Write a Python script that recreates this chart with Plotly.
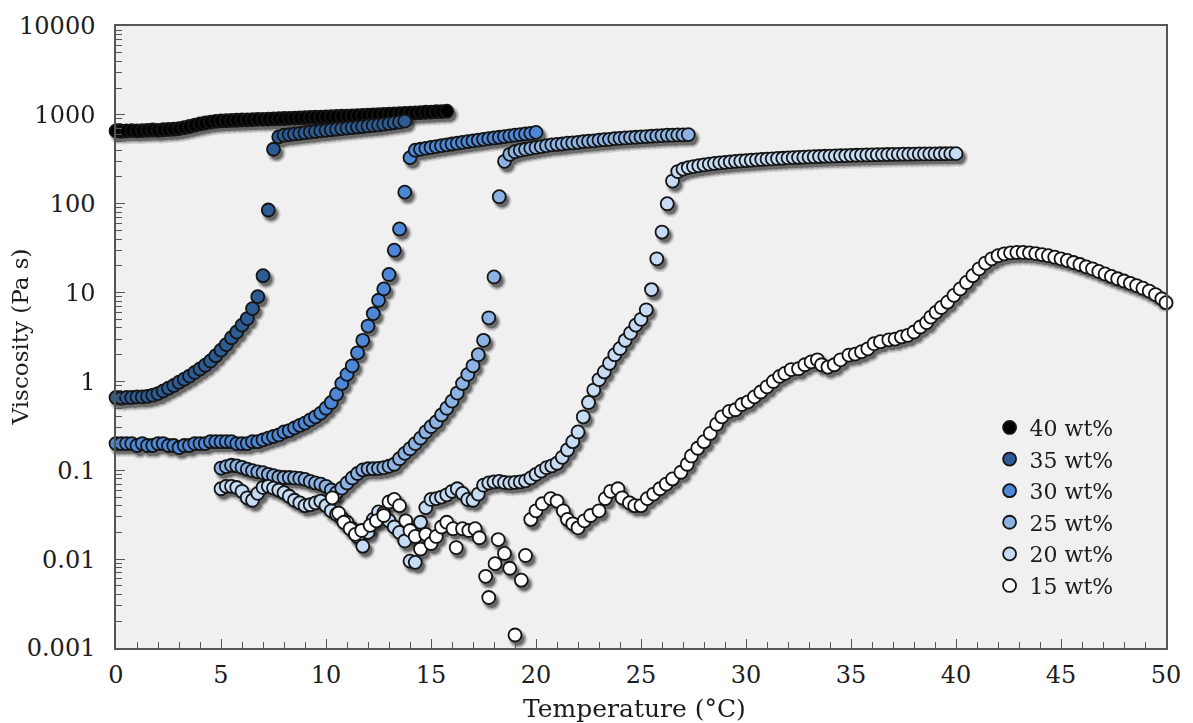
import plotly.graph_objects as go

# Temperature ramps sampled every 0.25 °C (start temperature per sample)
T_STEP = 0.25
T_START_40 = 0.0
T_START_35 = 0.0
T_START_30 = 0.0
T_START_25 = 5.0
T_START_20 = 5.0

# Viscosity (Pa s) for each concentration
visc_40 = [660, 655, 660, 665, 660, 665, 670, 675, 670, 680,
           685, 690, 700, 720, 740, 765, 790, 810, 830, 845,
           855, 860, 865, 870, 875, 880, 885, 890, 890, 895,
           900, 905, 910, 915, 920, 925, 930, 935, 940, 945,
           950, 955, 960, 965, 970, 975, 980, 985, 990, 1000,
           1005, 1010, 1020, 1025, 1030, 1040, 1045, 1050, 1060, 1070,
           1075, 1085, 1090, 1100]

visc_35 = [0.66, 0.65, 0.66, 0.66, 0.67, 0.67, 0.68, 0.70, 0.73, 0.78,
           0.84, 0.90, 0.98, 1.06, 1.15, 1.26, 1.38, 1.52, 1.70, 1.95,
           2.25, 2.6, 3.1, 3.6, 4.3, 5.1, 6.6, 9.0, 15.5, 85,
           410, 565, 590, 600, 610, 620, 630, 640, 650, 660,
           670, 680, 690, 700, 710, 720, 730, 740, 750, 760,
           770, 785, 800, 815, 830, 850]

visc_30 = [0.20, 0.20, 0.20, 0.20, 0.19, 0.20, 0.19, 0.19, 0.20, 0.20,
           0.19, 0.19, 0.18, 0.19, 0.19, 0.20, 0.20, 0.20, 0.21, 0.21,
           0.21, 0.21, 0.21, 0.20, 0.20, 0.20, 0.21, 0.21, 0.22, 0.23,
           0.24, 0.25, 0.27, 0.28, 0.30, 0.32, 0.34, 0.37, 0.40, 0.44,
           0.50, 0.58, 0.72, 0.95, 1.2, 1.5, 2.1, 2.9, 4.2, 5.8,
           8.2, 11, 16, 30, 52, 135, 330, 400, 410, 420,
           430, 440, 450, 460, 470, 480, 490, 500, 510, 520,
           530, 540, 550, 560, 570, 580, 590, 600, 610, 620,
           635]

visc_25 = [0.106, 0.110, 0.114, 0.112, 0.108, 0.103, 0.099, 0.096, 0.094, 0.090,
           0.087, 0.084, 0.083, 0.083, 0.082, 0.081, 0.079, 0.075, 0.072, 0.070,
           0.066, 0.060, 0.056, 0.063, 0.072, 0.082, 0.092, 0.101, 0.104, 0.104,
           0.105, 0.107, 0.111, 0.117, 0.135, 0.155, 0.175, 0.20, 0.23, 0.27,
           0.31, 0.35, 0.42, 0.50, 0.60, 0.74, 0.95, 1.2, 1.5, 2.0,
           2.9, 5.2, 15, 120, 300, 360, 385, 400, 410, 420,
           430, 440, 450, 460, 465, 470, 480, 485, 490, 500,
           505, 510, 520, 525, 530, 540, 545, 550, 555, 560,
           565, 570, 575, 580, 585, 590, 590, 595, 595, 600]

visc_20 = [0.062, 0.066, 0.066, 0.064, 0.058, 0.049, 0.046, 0.055, 0.064, 0.066,
           0.063, 0.060, 0.056, 0.051, 0.046, 0.043, 0.040, 0.041, 0.043, 0.045,
           0.040, 0.035, 0.032, 0.029, 0.026, 0.022, 0.018, 0.014, 0.020, 0.028,
           0.034, 0.033, 0.027, 0.023, 0.020, 0.016, 0.0095, 0.0092, 0.026, 0.038,
           0.047, 0.048, 0.050, 0.053, 0.058, 0.062, 0.055, 0.047, 0.046, 0.054,
           0.068, 0.072, 0.074, 0.075, 0.073, 0.072, 0.073, 0.074, 0.076, 0.082,
           0.090, 0.098, 0.107, 0.112, 0.12, 0.14, 0.17, 0.21, 0.27, 0.40,
           0.58, 0.80, 1.05, 1.28, 1.6, 2.0, 2.35, 2.9, 3.5, 4.3,
           5.0, 6.4, 10.8, 24, 48, 100, 180, 230, 245, 255,
           262, 268, 274, 279, 284, 288, 292, 296, 300, 303,
           306, 309, 312, 315, 318, 320, 323, 325, 328, 330,
           332, 334, 336, 338, 340, 342, 344, 345, 347, 348,
           350, 351, 353, 354, 355, 356, 357, 358, 359, 360,
           361, 361, 362, 363, 363, 364, 364, 365, 365, 366, 366]

# 15 wt% was logged at irregular temperatures, so both columns are listed
temp_15 = [10.3, 10.6, 10.85, 11.15, 11.4, 11.7, 12.1, 12.4, 12.75, 13.0,
           13.25, 13.5, 13.8, 14.0, 14.25, 14.5, 14.75, 15.0, 15.25, 15.5,
           15.75, 16.05, 16.2, 16.5, 16.8, 17.1, 17.3, 17.6, 17.75, 18.05,
           18.2, 18.5, 18.75, 19.0, 19.3, 19.5, 19.75, 20.0, 20.3, 20.7,
           21.0, 21.3, 21.5, 21.75, 22.0, 22.3, 22.6, 23.0, 23.3, 23.55,
           23.9, 24.1, 24.45, 24.7, 25.0, 25.3, 25.6, 25.9, 26.2, 26.5,
           26.9, 27.2, 27.4, 27.7, 28.0, 28.3, 28.6, 28.85, 29.2, 29.5,
           29.8, 30.1, 30.4, 30.7, 31.0, 31.3, 31.6, 31.85, 32.15, 32.5,
           32.8, 33.1, 33.4, 33.6, 33.9, 34.2, 34.5, 34.9, 35.2, 35.5,
           35.8, 36.1, 36.4, 36.8, 37.1, 37.4, 37.7, 38.0, 38.3, 38.6,
           38.8, 39.05, 39.3, 39.6, 39.9, 40.2, 40.5, 40.8, 41.1, 41.4,
           41.7, 42.0, 42.3, 42.6, 42.9, 43.2, 43.5, 43.8, 44.1, 44.4,
           44.7, 45.0, 45.3, 45.6, 45.9, 46.2, 46.5, 46.8, 47.1, 47.4,
           47.7, 48.0, 48.3, 48.6, 48.9, 49.2, 49.5, 49.8, 50.0]

visc_15 = [0.049, 0.033, 0.026, 0.022, 0.019, 0.021, 0.024, 0.027, 0.031, 0.044,
           0.047, 0.040, 0.027, 0.021, 0.018, 0.013, 0.019, 0.015, 0.018, 0.023,
           0.026, 0.022, 0.0135, 0.022, 0.021, 0.022, 0.0174, 0.0064, 0.0037, 0.0089,
           0.0166, 0.0116, 0.0079, 0.0014, 0.0058, 0.011, 0.028, 0.035, 0.042, 0.048,
           0.045, 0.035, 0.028, 0.025, 0.0225, 0.027, 0.031, 0.035, 0.048, 0.058,
           0.062, 0.049, 0.043, 0.040, 0.040, 0.048, 0.054, 0.062, 0.070, 0.080,
           0.095, 0.117, 0.145, 0.177, 0.21, 0.26, 0.33, 0.40, 0.46, 0.48,
           0.55, 0.59, 0.67, 0.76, 0.87, 1.0, 1.14, 1.23, 1.36, 1.39,
           1.54, 1.66, 1.75, 1.54, 1.45, 1.54, 1.75, 1.98, 2.03, 2.16,
           2.33, 2.66, 2.8, 2.94, 3.0, 3.17, 3.3, 3.6, 4.1, 4.6,
           5.3, 6.0, 6.8, 7.8, 9.3, 11.0, 13.0, 15.5, 18.5, 21.5,
           24, 26, 27.3, 28, 28.3, 28.3, 28, 27.5, 26.8, 26,
           25, 24, 23, 21.8, 20.7, 19.5, 18.5, 17.3, 16.2, 15.2,
           14.3, 13.5, 12.7, 12.0, 11.2, 10.4, 9.5, 8.5, 7.7]

x_ticks = [0, 5, 10, 15, 20, 25, 30, 35, 40, 45, 50]
y_ticks = [0.001, 0.01, 0.1, 1, 10, 100, 1000, 10000]
y_tick_text = ["0.001", "0.01", "0.1", "1", "10", "100", "1000", "10000"]

X_RANGE = [0, 50]
Y_RANGE_LOG = [-3, 4]


def ramp(start, values):
    return [round(start + T_STEP * i, 2) for i in range(len(values))]


series = [
    ("40 wt%", ramp(T_START_40, visc_40), visc_40, "#000000"),
    ("35 wt%", ramp(T_START_35, visc_35), visc_35, "#2d5c95"),
    ("30 wt%", ramp(T_START_30, visc_30), visc_30, "#4d87d6"),
    ("25 wt%", ramp(T_START_25, visc_25), visc_25, "#8db3e4"),
    ("20 wt%", ramp(T_START_20, visc_20), visc_20, "#c6dbf4"),
    ("15 wt%", temp_15, visc_15, "#ffffff"),
]

FONT = "DejaVu Serif, serif"
INK = "#1c1c1c"
AXIS_GREY = "#555555"

W, H = 1193, 723
M_L, M_R, M_T, M_B = 116, 21, 22, 75

# Drop shadow: the shadow layer sits on hidden axes whose ranges are nudged
# by a few pixels, so the same points land slightly down and to the right.
SHADOW_DX_PX, SHADOW_DY_PX = 3, 4
px_per_x = (W - M_L - M_R) / (X_RANGE[1] - X_RANGE[0])
px_per_decade = (H - M_T - M_B) / (Y_RANGE_LOG[1] - Y_RANGE_LOG[0])
dx = SHADOW_DX_PX / px_per_x
dy = SHADOW_DY_PX / px_per_decade

fig = go.Figure()

# shadow layer (bottom subplot): stacked soft discs fake a blurred edge
for name, temps, visc, color in series:
    for size, alpha in ((19, 0.12), (16, 0.22), (13, 0.36)):
        fig.add_trace(go.Scatter(
            x=temps, y=visc, mode="markers", showlegend=False, hoverinfo="skip",
            cliponaxis=False, opacity=alpha, xaxis="x", yaxis="y",
            marker=dict(size=size, color="#000000", line=dict(width=0)),
        ))

# data markers (overlay subplot carrying the visible axes)
for name, temps, visc, color in series:
    fig.add_trace(go.Scatter(
        x=temps, y=visc, name=name, mode="markers", cliponaxis=False,
        xaxis="x2", yaxis="y2",
        marker=dict(size=13, color=color, line=dict(color="#141414", width=1.8)),
    ))

tick_font = dict(family=FONT, size=24, color=INK)

fig.update_layout(
    width=W, height=H,
    margin=dict(l=M_L, r=M_R, t=M_T, b=M_B),
    paper_bgcolor="#ffffff", plot_bgcolor="#f0f0f0",
    font=dict(family=FONT, color=INK),
    xaxis=dict(range=[X_RANGE[0] - dx, X_RANGE[1] - dx], visible=False, fixedrange=True),
    yaxis=dict(type="log", range=[Y_RANGE_LOG[0] + dy, Y_RANGE_LOG[1] + dy],
               visible=False, fixedrange=True),
    xaxis2=dict(overlaying="x", anchor="y2", side="bottom", range=X_RANGE,
                tickvals=x_ticks, ticks="inside", ticklen=9, tickwidth=1.2,
                ticklabelstandoff=4, tickfont=tick_font,
                showline=True, linecolor=AXIS_GREY, linewidth=1.5, mirror=True,
                showgrid=False, zeroline=False, tickcolor=AXIS_GREY,
                minor=dict(dtick=1, tick0=0, ticks="inside", ticklen=6, tickwidth=1,
                           tickcolor=AXIS_GREY, showgrid=False)),
    yaxis2=dict(overlaying="y", anchor="x2", side="left", type="log", range=Y_RANGE_LOG,
                tickvals=y_ticks, ticktext=y_tick_text, ticks="inside", ticklen=9,
                tickwidth=1.2, ticklabelstandoff=14, tickfont=tick_font,
                showline=True, linecolor=AXIS_GREY, linewidth=1.5, mirror=True,
                showgrid=False, zeroline=False, tickcolor=AXIS_GREY,
                minor=dict(dtick="D1", ticks="inside", ticklen=6, tickwidth=1,
                           tickcolor=AXIS_GREY, showgrid=False)),
    showlegend=True,
    legend=dict(x=0.832, y=0.388, xanchor="left", yanchor="top",
                bgcolor="rgba(0,0,0,0)", font=dict(family=FONT, size=22, color=INK),
                itemclick=False, itemdoubleclick=False),
    annotations=[
        dict(text="Viscosity (Pa s)", xref="paper", yref="paper", x=-0.091, y=0.5,
             xanchor="center", yanchor="middle",
             textangle=-90, showarrow=False, font=dict(family=FONT, size=23, color=INK)),
        dict(text="Temperature (°C)", xref="paper", yref="paper", x=0.494, y=-0.097,
             xanchor="center", yanchor="middle",
             showarrow=False, font=dict(family=FONT, size=25, color=INK)),
    ],
)

fig.write_html("out.html")
